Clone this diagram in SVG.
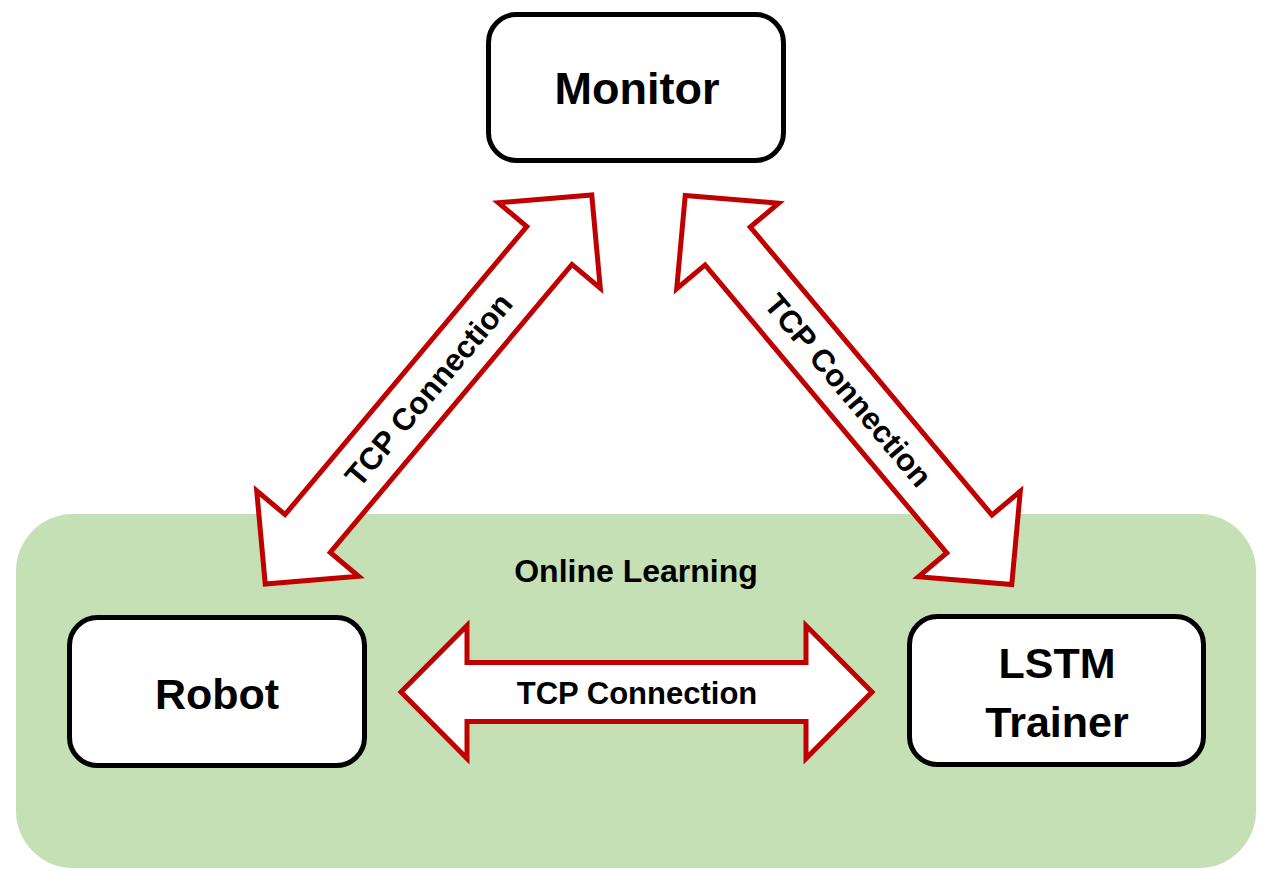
<svg xmlns="http://www.w3.org/2000/svg" width="1273" height="885" viewBox="0 0 1273 885">
<defs>
<style>
.box{fill:#FFFFFF;stroke:#000000;stroke-width:5}
.lbl{font-family:"Liberation Sans",Arial,sans-serif;font-weight:bold;font-size:43px;fill:#000000;text-anchor:middle}
.small{font-family:"Liberation Sans",Arial,sans-serif;font-weight:bold;font-size:31px;fill:#000000;text-anchor:middle}
.arr{fill:#FFFFFF;stroke:#C00000;stroke-width:5;stroke-linejoin:miter;stroke-miterlimit:10}
</style>
</defs>
<rect width="1273" height="885" fill="#FFFFFF"/>
<g id="online-learning">
<rect x="16" y="514" width="1240" height="354" rx="57" ry="57" fill="#C5E0B4"/>
<text class="small" x="636" y="582" style="font-size:32px">Online Learning</text>
</g>
<g id="connectors">
<path class="arr" transform="translate(636.5,692)" d="M-235.5 0 L-169.5 -66.5 L-169.5 -29.5 L169.5 -29.5 L169.5 -66.5 L235.5 0 L169.5 66.5 L169.5 29.5 L-169.5 29.5 L-169.5 66.5 Z"/>
<text class="small" x="637" y="704">TCP Connection</text>
<g transform="translate(428.5,389.5) rotate(-50)">
<path class="arr" d="M-254 0 L-188 -66.5 L-188 -29.5 L188 -29.5 L188 -66.5 L254 0 L188 66.5 L188 29.5 L-188 29.5 L-188 66.5 Z"/>
<text class="small" x="0" y="11">TCP Connection</text>
</g>
<g transform="translate(848.5,390) rotate(50)">
<path class="arr" d="M-254 0 L-188 -66.5 L-188 -29.5 L188 -29.5 L188 -66.5 L254 0 L188 66.5 L188 29.5 L-188 29.5 L-188 66.5 Z"/>
<text class="small" x="0" y="11">TCP Connection</text>
</g>
</g>
<g id="monitor">
<rect class="box" x="488.5" y="14.5" width="295" height="146" rx="28" ry="28"/>
<text class="lbl" x="637" y="104" style="font-size:45px">Monitor</text>
</g>
<g id="robot">
<rect class="box" x="69.5" y="617.5" width="295" height="148" rx="28" ry="28"/>
<text class="lbl" x="217" y="709">Robot</text>
</g>
<g id="lstm-trainer">
<rect class="box" x="909.5" y="616.5" width="294" height="148" rx="28" ry="28"/>
<text class="lbl" x="1057" y="678">LSTM</text>
<text class="lbl" x="1057" y="737">Trainer</text>
</g>
</svg>
